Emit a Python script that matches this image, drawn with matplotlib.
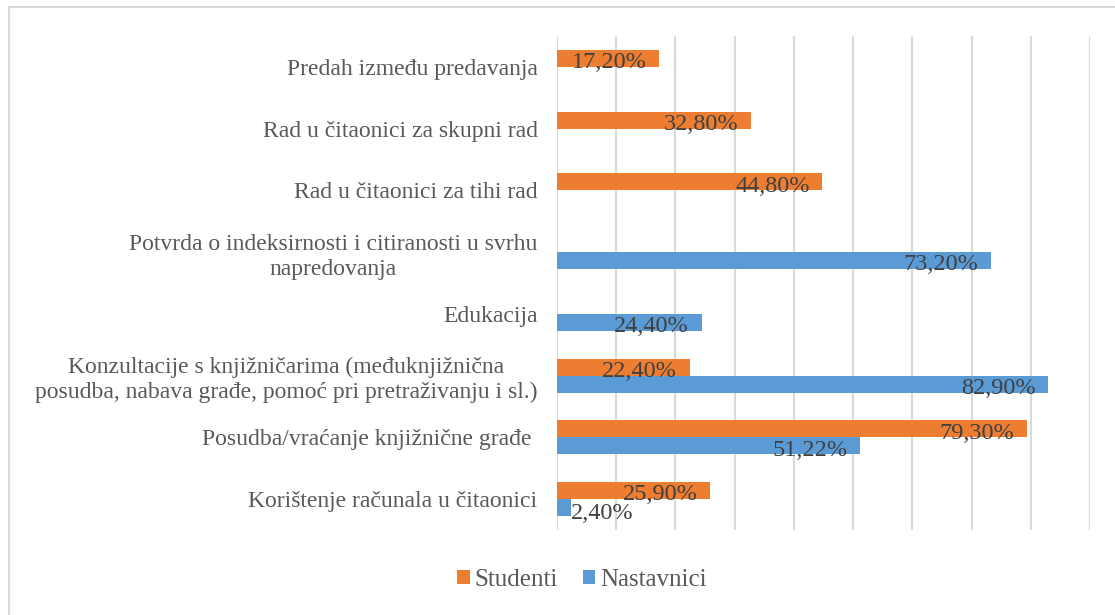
import matplotlib
matplotlib.use("Agg")
import matplotlib.pyplot as plt
import numpy as np
from matplotlib.patches import Rectangle

categories = [
    "Korištenje računala u čitaonici",
    "Posudba/vraćanje knjižnične građe ",
    "Konzultacije s knjižničarima (međuknjižnična\nposudba, nabava građe, pomoć pri pretraživanju i sl.)",
    "Edukacija",
    "Potvrda o indeksirnosti i citiranosti u svrhu\nnapredovanja",
    "Rad u čitaonici za tihi rad",
    "Rad u čitaonici za skupni rad",
    "Predah između predavanja",
]
studenti = [25.90, 79.30, 22.40, None, None, 44.80, 32.80, 17.20]
nastavnici = [2.40, 51.22, 82.90, 24.40, 73.20, None, None, None]
series_names = ["Studenti", "Nastavnici"]
colors = ["#ED7D31", "#5B9BD5"]

W, H = 1115, 615
fig = plt.figure(figsize=(W / 100, H / 100), dpi=100)
fig.patch.set_facecolor("white")

# outer chart border
fig.add_artist(Rectangle((9 / W, -0.1), 1.2, (H - 7) / H + 0.1, transform=fig.transFigure,
                         fill=False, edgecolor="#D9D9D9", linewidth=1.5))

left, right, top, bottom = 557, 1090, 36, 530
ax = fig.add_axes([left / W, 1 - bottom / H, (right - left) / W, (bottom - top) / H])

font = "Liberation Serif"
y = np.arange(len(categories))
bh = 0.275
off = bh / 2

def draw(vals, dy, color, label):
    xs = [v if v is not None else 0 for v in vals]
    mask = [v is not None for v in vals]
    ys = y + dy
    bars = ax.barh(ys[mask], np.array(xs)[mask], height=bh, color=color, label=label, zorder=2)
    for yi, v in zip(ys[mask], np.array(xs)[mask]):
        txt = f"{v:.2f}%".replace(".", ",")
        if v < 8:
            ax.annotate(txt, (v, yi), xytext=(0, -4), textcoords="offset points",
                        ha="left", va="center", fontsize=17.5, family=font, color="#404040", zorder=3)
        else:
            ax.annotate(txt, (v, yi), xytext=(-9, -3), textcoords="offset points",
                        ha="right", va="center", fontsize=17.5, family=font, color="#404040", zorder=3)
    return bars

draw(studenti, off, colors[0], series_names[0])
draw(nastavnici, -off, colors[1], series_names[1])

ax.set_xlim(0, 90)
ax.set_ylim(-0.5, len(categories) - 0.5)
ax.set_xticks(np.arange(0, 91, 10))
ax.set_xticklabels([])
ax.tick_params(axis="both", length=0)
ax.grid(axis="x", color="#D9D9D9", linewidth=1.5, zorder=0)
for s in ax.spines.values():
    s.set_visible(False)
ax.set_yticks(y)
ax.set_yticklabels(categories, fontsize=17, family=font, color="#595959",
                   multialignment="center", linespacing=1.25)
ax.tick_params(axis="y", pad=14)

leg = fig.legend(loc="center", bbox_to_anchor=(582 / W, 1 - 580 / H), ncol=2, frameon=False,
                 prop={"family": font, "size": 18}, handlelength=0.5, handleheight=0.5,
                 columnspacing=1.0, handletextpad=0.2)
for t in leg.get_texts():
    t.set_color("#595959")

fig.savefig("out.png", dpi=100, facecolor="white")
